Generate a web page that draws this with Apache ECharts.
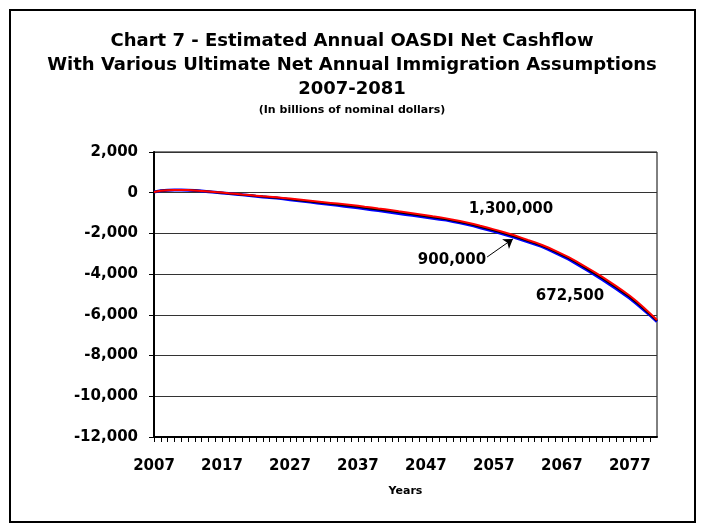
<!DOCTYPE html>
<html>
<head>
<meta charset="utf-8">
<script src="https://cdn.jsdelivr.net/npm/echarts@6/dist/echarts.min.js"></script>
<style>html,body{margin:0;padding:0;background:#fff}#c{width:704px;height:531px}</style>
</head>
<body>
<div id="c"></div>
<script>
var years = [];
for (var y = 2007; y <= 2081; y++) years.push(y);

var xTickLabels = ['2007','2017','2027','2037','2047','2057','2067','2077'];
var yTickLabels = ['2,000','0','-2,000','-4,000','-6,000','-8,000','-10,000','-12,000'];

// 1,300,000 ultimate net annual immigration
var high = [40,100,125,130,130,130,110,85,60,30,
  5,-25,-50,-85,-115,-145,-175,-200,-225,-255,
  -290,-325,-360,-395,-430,-465,-500,-535,-570,-605,
  -645,-690,-730,-775,-815,-860,-910,-955,-1005,-1055,
  -1105,-1160,-1210,-1260,-1325,-1390,-1460,-1535,-1625,-1710,
  -1800,-1890,-1990,-2090,-2205,-2320,-2430,-2555,-2690,-2845,
  -3000,-3160,-3345,-3540,-3735,-3940,-4150,-4370,-4590,-4820,
  -5060,-5335,-5625,-5930,-6250];
// 900,000
var mid = [40,100,125,130,130,128,108,83,55,25,
  -3,-33,-60,-95,-128,-160,-190,-218,-245,-278,
  -315,-353,-390,-428,-465,-503,-540,-578,-615,-653,
  -695,-740,-783,-828,-870,-915,-965,-1010,-1058,-1105,
  -1153,-1205,-1255,-1303,-1368,-1435,-1505,-1583,-1673,-1760,
  -1850,-1940,-2040,-2140,-2253,-2365,-2475,-2598,-2735,-2893,
  -3050,-3215,-3403,-3600,-3798,-4005,-4215,-4435,-4655,-4885,
  -5125,-5398,-5683,-5980,-6290];
// 672,500
var low = [40,100,125,130,130,125,105,80,50,20,
  -10,-40,-70,-105,-140,-175,-205,-235,-265,-300,
  -340,-380,-420,-460,-500,-540,-580,-620,-660,-700,
  -745,-790,-835,-880,-925,-970,-1020,-1065,-1110,-1155,
  -1200,-1250,-1300,-1345,-1410,-1480,-1550,-1630,-1720,-1810,
  -1900,-1990,-2090,-2190,-2300,-2410,-2520,-2640,-2780,-2940,
  -3100,-3270,-3460,-3660,-3860,-4070,-4280,-4500,-4720,-4950,
  -5190,-5460,-5740,-6030,-6330];

var seriesNames = ['672,500','900,000','1,300,000'];
var arrowFrom = [2056.0, -3160];
var arrowTo = [2059.8, -2270];

function pairs(arr){ return years.map(function(yr,i){ return [yr, arr[i]]; }); }

var FONT = 'DejaVu Sans';
var chart = echarts.init(document.getElementById('c'), null, {renderer:'canvas'});
chart.setOption({
  animation: false,
  backgroundColor: '#fff',
  title: [
    {text: 'Chart 7 - Estimated Annual OASDI Net Cashflow\nWith Various Ultimate Net Annual Immigration Assumptions\n2007-2081',
     left: 'center', top: 24,
     textStyle: {fontFamily: FONT, fontWeight: 'bold', fontSize: 18, lineHeight: 24, color: '#000'}},
    {text: '(In billions of nominal dollars)', left: 'center', top: 99,
     textStyle: {fontFamily: FONT, fontWeight: 'bold', fontSize: 11, lineHeight: 12, color: '#000'}}
  ],
  grid: {left: 154, right: 47, top: 152, bottom: 94, show: true, borderColor: '#000', borderWidth: 1, backgroundColor: '#fff'},
  xAxis: {
    type: 'value', min: 2007, max: 2081, interval: 1,
    name: 'Years', nameLocation: 'middle', nameGap: 49,
    nameTextStyle: {fontFamily: FONT, fontWeight: 'bold', fontSize: 11, color: '#000'},
    axisLine: {show: true, onZero: false, lineStyle: {color: '#000', width: 2}},
    axisTick: {show: true, length: 5, lineStyle: {color: '#000', width: 1}},
    splitLine: {show: false},
    axisLabel: {
      margin: 22, color: '#000', fontFamily: FONT, fontWeight: 'bold', fontSize: 15,
      showMaxLabel: false,
      formatter: function(v){ var s = String(v); return xTickLabels.indexOf(s) >= 0 ? s : ''; }
    }
  },
  yAxis: {
    type: 'value', min: -12000, max: 2000, interval: 2000,
    axisLine: {show: true, lineStyle: {color: '#000', width: 2}},
    axisTick: {show: true, length: 5, lineStyle: {color: '#000'}},
    splitLine: {show: true, lineStyle: {color: '#333', width: 1}},
    axisLabel: {
      margin: 16, color: '#000', fontFamily: FONT, fontWeight: 'bold', fontSize: 15,
      formatter: function(v){ var i = Math.round((2000 - v) / 2000); return yTickLabels[i]; }
    }
  },
  series: [
    {name: seriesNames[0], type: 'line', data: pairs(low), showSymbol: false, symbol: 'none',
     lineStyle: {color: '#0000ff', width: 3}, z: 2},
    {name: seriesNames[1], type: 'line', data: pairs(mid), showSymbol: false, symbol: 'none',
     lineStyle: {color: '#000000', width: 2}, z: 3,
     markLine: {silent: true, symbol: ['none', 'arrow'], symbolSize: 9, label: {show: false},
       lineStyle: {color: '#000', width: 1, type: 'solid'},
       data: [[{coord: arrowFrom}, {coord: arrowTo}]]}},
    {name: seriesNames[2], type: 'line', data: pairs(high), showSymbol: false, symbol: 'none',
     lineStyle: {color: '#ff0000', width: 2}, z: 4}
  ],
  graphic: [
    {type: 'rect', shape: {x: 10, y: 10, width: 685, height: 512}, style: {fill: 'none', stroke: '#000', lineWidth: 2}, z: 100},
    {type: 'text', x: 511, y: 209, style: {text: seriesNames[2], font: 'bold 15px "DejaVu Sans"', fill: '#000', textAlign: 'center', textVerticalAlign: 'middle'}, z: 100},
    {type: 'text', x: 452, y: 260, style: {text: seriesNames[1], font: 'bold 15px "DejaVu Sans"', fill: '#000', textAlign: 'center', textVerticalAlign: 'middle'}, z: 100},
    {type: 'text', x: 570, y: 296, style: {text: seriesNames[0], font: 'bold 15px "DejaVu Sans"', fill: '#000', textAlign: 'center', textVerticalAlign: 'middle'}, z: 100}
  ]
});
</script>
</body>
</html>
